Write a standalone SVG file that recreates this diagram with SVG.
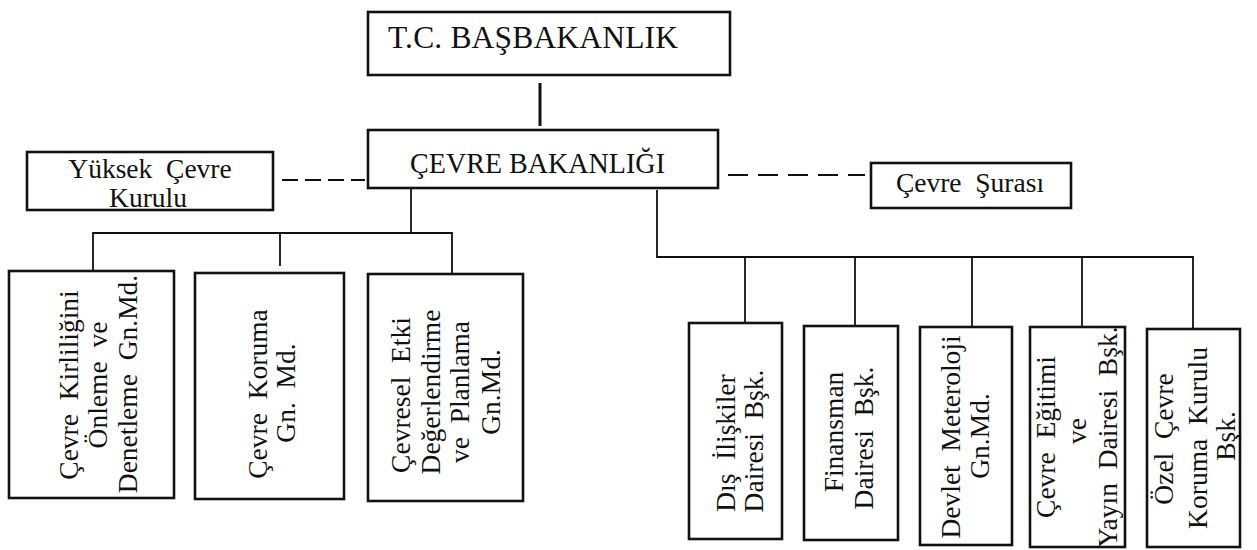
<svg xmlns="http://www.w3.org/2000/svg" width="1257" height="550" viewBox="0 0 1257 550">
<style>
.box{fill:#fff;stroke:#111;stroke-width:2.6}
.ln{stroke:#111;stroke-width:1.8;fill:none}
.dash{stroke:#111;stroke-width:2;fill:none}
text{font-family:"Liberation Serif","Times New Roman",serif;fill:#111;white-space:pre}
.t{font-size:27.5px;text-anchor:middle}
</style>
<rect width="1257" height="550" fill="#fff"/>
<g id="connectors">
<line class="ln" x1="540" y1="83" x2="540" y2="126" style="stroke-width:3"/>
<line class="dash" x1="282" y1="180" x2="365" y2="180" stroke-dasharray="16 7"/>
<line class="dash" x1="728" y1="175" x2="865" y2="175" stroke-dasharray="20 10"/>
<polyline class="ln" points="411,188 411,233"/>
<polyline class="ln" points="93,271 93,233 452,233 452,274"/>
<line class="ln" x1="280" y1="233" x2="280" y2="266"/>
<polyline class="ln" points="657,190 657,257 1193,257 1193,329"/>
<line class="ln" x1="745" y1="257" x2="745" y2="323"/>
<line class="ln" x1="855" y1="257" x2="855" y2="326"/>
<line class="ln" x1="972" y1="257" x2="972" y2="327"/>
<line class="ln" x1="1082" y1="257" x2="1082" y2="327"/>
</g>
<g id="basbakanlik">
<rect class="box" x="368" y="12" width="362" height="63"/>
<text x="388" y="48" style="font-size:31.5px" textLength="290">T.C. BAŞBAKANLIK</text>
</g>
<g id="cevre-bakanligi">
<rect class="box" x="368" y="130" width="350" height="58"/>
<text x="410" y="173" style="font-size:30px" textLength="255" lengthAdjust="spacingAndGlyphs">ÇEVRE BAKANLIĞI</text>
</g>
<g id="yuksek-cevre-kurulu">
<rect class="box" x="27" y="152" width="246" height="58"/>
<text class="t" x="150" y="178">Yüksek  Çevre</text>
<text class="t" x="148" y="207">Kurulu</text>
</g>
<g id="cevre-surasi">
<rect class="box" x="871" y="163" width="200" height="45"/>
<text class="t" x="970" y="192">Çevre  Şurası</text>
</g>
<g id="kirlilik">
<rect class="box" x="9" y="271" width="165" height="227"/>
<text class="t" transform="translate(78,385) rotate(-90)">Çevre  Kirliliğini</text>
<text class="t" transform="translate(107,385) rotate(-90)">Önleme  ve</text>
<text class="t" transform="translate(137,384) rotate(-90)">Denetleme  Gn.Md.</text>
</g>
<g id="koruma">
<rect class="box" x="195" y="273" width="149" height="226"/>
<text class="t" transform="translate(267,394) rotate(-90)">Çevre  Koruma</text>
<text class="t" transform="translate(295,393) rotate(-90)">Gn.  Md.</text>
</g>
<g id="etki">
<rect class="box" x="368" y="274" width="155" height="227"/>
<text class="t" transform="translate(410,395) rotate(-90)">Çevresel  Etki</text>
<text class="t" transform="translate(440,392) rotate(-90)">Değerlendirme</text>
<text class="t" transform="translate(469,392) rotate(-90)">ve  Planlama</text>
<text class="t" transform="translate(500,392) rotate(-90)">Gn.Md.</text>
</g>
<g id="dis-iliskiler">
<rect class="box" x="689" y="323" width="93" height="216"/>
<text class="t" transform="translate(735,443) rotate(-90)">Dış  İlişkiler</text>
<text class="t" transform="translate(763,441) rotate(-90)">Dairesi  Bşk.</text>
</g>
<g id="finansman">
<rect class="box" x="804" y="326" width="94" height="214"/>
<text class="t" transform="translate(843,432) rotate(-90)">Finansman</text>
<text class="t" transform="translate(873,438) rotate(-90)">Dairesi  Bşk.</text>
</g>
<g id="meteoroloji">
<rect class="box" x="920" y="327" width="92" height="218"/>
<text class="t" transform="translate(960,437) rotate(-90)">Devlet  Meteroloji</text>
<text class="t" transform="translate(989,436) rotate(-90)">Gn.Md.</text>
</g>
<g id="egitim">
<rect class="box" x="1030" y="327" width="95" height="220"/>
<text class="t" transform="translate(1055,437) rotate(-90)">Çevre  Eğitimi</text>
<text class="t" transform="translate(1086,431) rotate(-90)">ve</text>
<text class="t" transform="translate(1117,437) rotate(-90)">Yayın  Dairesi  Bşk.</text>
</g>
<g id="ozel-cevre">
<rect class="box" x="1147" y="329" width="93" height="218"/>
<text class="t" transform="translate(1173,439) rotate(-90)">Özel  Çevre</text>
<text class="t" transform="translate(1207,438) rotate(-90)">Koruma  Kurulu</text>
<text class="t" transform="translate(1235,436) rotate(-90)">Bşk.</text>
</g>
</svg>
